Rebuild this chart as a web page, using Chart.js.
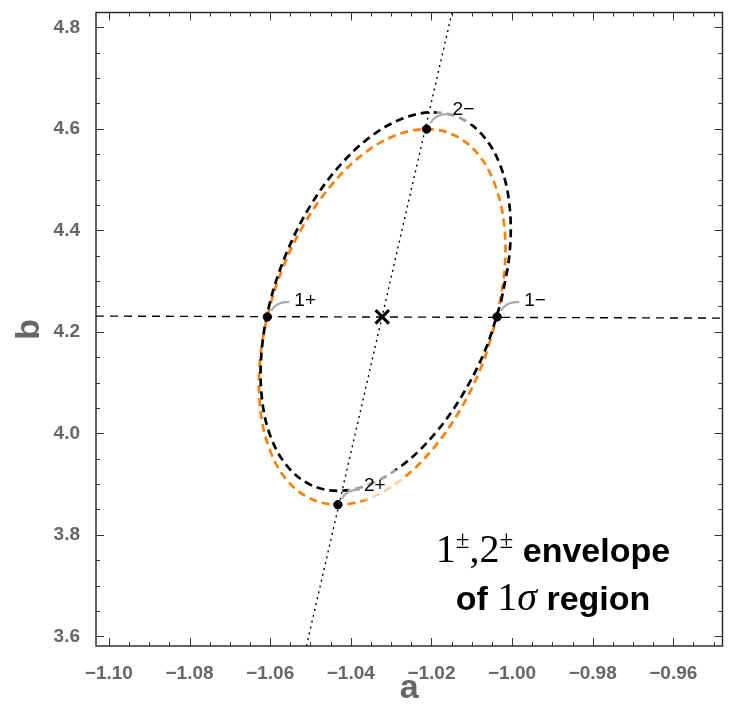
<!DOCTYPE html>
<html>
<head>
<meta charset="utf-8">
<script src="https://cdn.jsdelivr.net/npm/chart.js@4.4.1/dist/chart.umd.min.js"></script>
<style>
  html, body { margin: 0; padding: 0; background: #fff; }
</style>
</head>
<body>
<canvas id="chart" width="735" height="709"></canvas>
<script>
// ── Eixos ───────────────────────────────────────────────────────
const xTicks = [-1.10, -1.08, -1.06, -1.04, -1.02, -1.00, -0.98, -0.96];
const xTickLabels = ['−1.10', '−1.08', '−1.06', '−1.04', '−1.02', '−1.00', '−0.98', '−0.96'];
const yTicks = [3.6, 3.8, 4.0, 4.2, 4.4, 4.6, 4.8];
const yTickLabels = ['3.6', '3.8', '4.0', '4.2', '4.4', '4.6', '4.8'];
const xRange = [-1.1032, -0.9478];
const yRange = [3.5809, 4.8292];

// ── Região 1σ (laranja) ─────────────────────────────────────────
const regionA = [-1.0037, -1.0018, -1.0020, -1.0043, -1.0084, -1.0142, -1.0212, -1.0290,
    -1.0370, -1.0446, -1.0514, -1.0569, -1.0607, -1.0626, -1.0624, -1.0601,
    -1.0560, -1.0502, -1.0432, -1.0354, -1.0274, -1.0198, -1.0130, -1.0075, -1.0037];
const regionB = [4.2294, 4.3252, 4.4144, 4.4910, 4.5498, 4.5868, 4.5994, 4.5868,
    4.5498, 4.4910, 4.4144, 4.3252, 4.2294, 4.1336, 4.0444, 3.9678,
    3.9090, 3.8720, 3.8594, 3.8720, 3.9090, 3.9678, 4.0444, 4.1336, 4.2294];

// ── Envelope 1±,2± (preto) ──────────────────────────────────────
const envelopeA = [-1.0027, -1.0006, -1.0006, -1.0027, -1.0068, -1.0125, -1.0195, -1.0273,
    -1.0354, -1.0432, -1.0502, -1.0559, -1.0600, -1.0621, -1.0621, -1.0600,
    -1.0559, -1.0502, -1.0432, -1.0354, -1.0273, -1.0195, -1.0125, -1.0067, -1.0027];
const envelopeB = [4.2596, 4.3561, 4.4461, 4.5233, 4.5826, 4.6198, 4.6325, 4.6198,
    4.5826, 4.5233, 4.4461, 4.3561, 4.2596, 4.1631, 4.0731, 3.9959,
    3.9366, 3.8994, 3.8867, 3.8994, 3.9366, 3.9959, 4.0731, 4.1631, 4.2596];

// ── Centro, pontos e retas ──────────────────────────────────────
const centerA = [-1.0322];
const centerB = [4.2294];
const pointNames = ['1+', '1−', '2−', '2+'];
const pointA = [-1.0607, -1.0037, -1.0212, -1.0432];
const pointB = [4.2294, 4.2294, 4.5994, 3.8594];
const hLineA = [-1.1032, -0.9478];
const hLineB = [4.2310, 4.2270];
const dLineA = [-1.0510, -1.0149];
const dLineB = [3.5809, 4.8292];

const noteLine1 = ['1', '±', ',2', '±', ' envelope'];
const noteLine2 = ['of ', '1', 'σ', ' region'];

const SANS = '"Liberation Sans", Arial, sans-serif';
const SERIF = '"Liberation Serif", "Times New Roman", serif';
const ORANGE = 'rgb(250, 128, 10)';

const toXY = (xs, ys) => xs.map((x, i) => ({ x, y: ys[i] }));

// ── Plugin: rótulos, chamadas, moldura e marcas ─────────────────
const decorPlugin = {
    id: 'decor',
    afterDatasetsDraw(chart) {
        const { ctx, chartArea: area, scales: { x, y } } = chart;
        ctx.save();

        // fundo translúcido das chamadas (apaga um pouco as curvas)
        pointNames.forEach((name, i) => {
            const px = x.getPixelForValue(pointA[i]);
            const py = y.getPixelForValue(pointB[i]);
            const off = i < 2 ? [27, -11] : [26, -14];
            ctx.fillStyle = 'rgba(255,255,255,0.62)';
            ctx.fillRect(px + off[0] - 16, py + off[1] - 21, 56, 30);
        });

        // linhas de chamada + texto
        pointNames.forEach((name, i) => {
            const px = x.getPixelForValue(pointA[i]);
            const py = y.getPixelForValue(pointB[i]);
            const off = i < 2 ? [27, -11] : [26, -14];
            ctx.strokeStyle = '#ababab';
            ctx.lineWidth = 2.2;
            ctx.beginPath();
            ctx.moveTo(px + 4, py - 6);
            ctx.quadraticCurveTo(px + 8, py - 15, px + 22, py - 15);
            ctx.stroke();
            ctx.fillStyle = '#000';
            ctx.font = '19px ' + SANS;
            ctx.textAlign = 'left';
            ctx.textBaseline = 'alphabetic';
            ctx.fillText(name, px + off[0], py + off[1]);
        });

        // texto da anotação
        const big = '40px ' + SERIF, sup = '25px ' + SERIF, bold = 'bold 34px ' + SANS;
        const parts1 = [
            { t: noteLine1[0], f: big }, { t: noteLine1[1], f: sup, r: 14 },
            { t: noteLine1[2], f: big }, { t: noteLine1[3], f: sup, r: 14 },
            { t: noteLine1[4], f: bold }
        ];
        const parts2 = [
            { t: noteLine2[0], f: bold }, { t: noteLine2[1], f: big },
            { t: noteLine2[2], f: 'italic 40px ' + SERIF }, { t: noteLine2[3], f: bold }
        ];
        const drawRich = (parts, cx, base) => {
            let total = 0;
            parts.forEach(p => { ctx.font = p.f; p.w = ctx.measureText(p.t).width; total += p.w; });
            let cur = cx - total / 2;
            parts.forEach(p => { ctx.font = p.f; ctx.fillText(p.t, cur, base - (p.r || 0)); cur += p.w; });
        };
        ctx.fillStyle = '#000';
        drawRich(parts1, 553, 562);
        drawRich(parts2, 553, 610);

        // moldura
        ctx.strokeStyle = '#222';
        ctx.lineWidth = 1.4;
        ctx.strokeRect(area.left, area.top, area.right - area.left, area.bottom - area.top);

        // marcas internas (todos os lados)
        ctx.lineWidth = 1;
        ctx.strokeStyle = '#333';
        const tickSet = (min, max, step) => {
            const out = [];
            for (let k = Math.ceil(min / step - 1e-9); k * step <= max + 1e-9; k++) out.push(k * step);
            return out;
        };
        const isMajor = (v, majors) => majors.some(m => Math.abs(m - v) < 1e-6);
        tickSet(xRange[0], xRange[1], 0.005).forEach(v => {
            const len = isMajor(v, xTicks) ? 8 : 4;
            const px = Math.round(x.getPixelForValue(v)) + 0.5;
            ctx.beginPath();
            ctx.moveTo(px, area.bottom); ctx.lineTo(px, area.bottom - len);
            ctx.moveTo(px, area.top); ctx.lineTo(px, area.top + len);
            ctx.stroke();
        });
        tickSet(yRange[0], yRange[1], 0.05).forEach(v => {
            const len = isMajor(v, yTicks) ? 8 : 4;
            const py = Math.round(y.getPixelForValue(v)) + 0.5;
            ctx.beginPath();
            ctx.moveTo(area.left, py); ctx.lineTo(area.left + len, py);
            ctx.moveTo(area.right, py); ctx.lineTo(area.right - len, py);
            ctx.stroke();
        });
        ctx.restore();
    }
};

new Chart(document.getElementById('chart').getContext('2d'), {
    type: 'scatter',
    data: {
        datasets: [
            {
                label: 'envelope',
                data: toXY(envelopeA, envelopeB),
                showLine: true, tension: 0.36, pointRadius: 0,
                borderColor: '#000', borderWidth: 2.7, borderDash: [8, 5],
                order: 2
            },
            {
                label: 'region',
                data: toXY(regionA, regionB),
                showLine: true, tension: 0.36, pointRadius: 0,
                borderColor: ORANGE, borderWidth: 2.7, borderDash: [8, 5],
                order: 3
            },
            {
                label: 'h',
                data: toXY(hLineA, hLineB),
                showLine: true, pointRadius: 0,
                borderColor: '#000', borderWidth: 1.4, borderDash: [8, 6],
                order: 4
            },
            {
                label: 'd',
                data: toXY(dLineA, dLineB),
                showLine: true, pointRadius: 0,
                borderColor: '#000', borderWidth: 1.4, borderDash: [2, 4],
                order: 4
            },
            {
                label: 'pontos',
                data: toXY(pointA, pointB),
                pointRadius: 4.2, pointBackgroundColor: '#000', pointBorderColor: '#000',
                order: 1
            },
            {
                label: 'centro',
                data: toXY(centerA, centerB),
                pointStyle: 'crossRot', pointRadius: 9.5, pointBorderWidth: 3,
                pointBorderColor: '#000',
                order: 1
            }
        ]
    },
    options: {
        responsive: false,
        animation: false,
        layout: { padding: { top: 5, right: 2, left: 0, bottom: 0 } },
        plugins: { legend: { display: false }, tooltip: { enabled: false } },
        scales: {
            x: {
                type: 'linear', min: xRange[0], max: xRange[1],
                afterBuildTicks: s => { s.ticks = xTicks.map(v => ({ value: v })); },
                afterFit: s => { s.height = 63; s.paddingLeft = 0; s.paddingRight = 0; },
                grid: { display: false }, border: { display: false },
                ticks: {
                    callback: (v, i) => xTickLabels[i],
                    font: { family: SANS, size: 19, weight: 'bold' }, color: '#666',
                    padding: 8, maxRotation: 0, autoSkip: false
                },
                title: {
                    display: true, text: 'a', color: '#666',
                    font: { family: SANS, size: 34, weight: 'bold' },
                    padding: { top: 0, bottom: 0 }
                }
            },
            y: {
                type: 'linear', min: yRange[0], max: yRange[1],
                afterBuildTicks: s => { s.ticks = yTicks.map(v => ({ value: v })); },
                afterFit: s => { s.width = 96; s.paddingTop = 0; s.paddingBottom = 0; },
                grid: { display: false }, border: { display: false },
                ticks: {
                    callback: (v, i) => yTickLabels[i],
                    font: { family: SANS, size: 19, weight: 'bold' }, color: '#666',
                    padding: 8, autoSkip: false
                },
                title: {
                    display: true, text: 'b', color: '#666',
                    font: { family: SANS, size: 34, weight: 'bold' },
                    padding: { top: 9, bottom: 0 }
                }
            }
        }
    },
    plugins: [decorPlugin]
});
</script>
</body>
</html>
